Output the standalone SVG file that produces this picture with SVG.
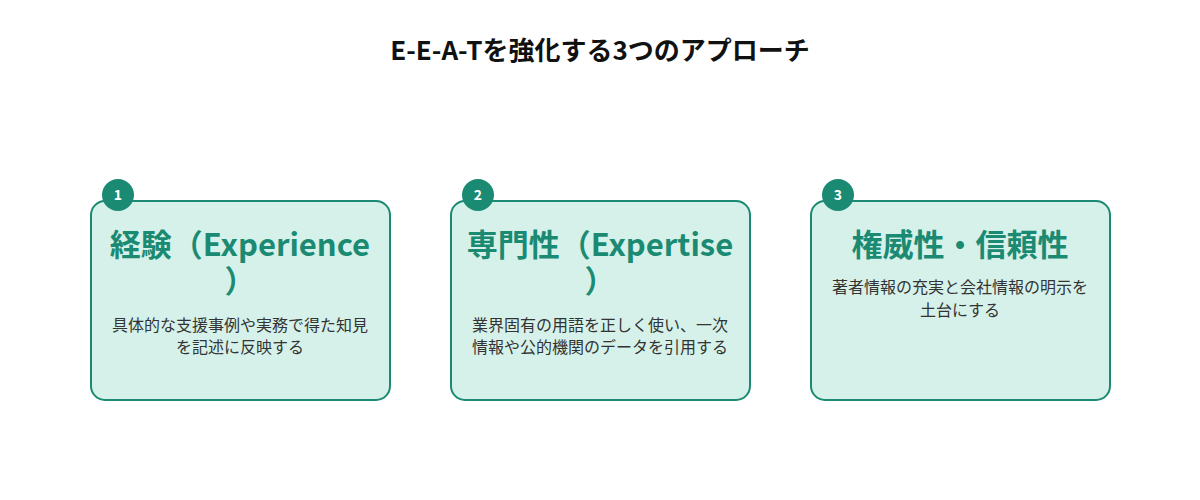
<svg xmlns="http://www.w3.org/2000/svg" width="1200" height="500" viewBox="0 0 1200 500">
<style>
.card{fill:#d5f1e9;stroke:#1b8a72;stroke-width:2}
.badge{fill:#1b8a72}
.bn{font-family:"Noto Sans CJK JP","Noto Sans",sans-serif;font-size:14px;font-weight:700;fill:#fff;text-anchor:middle}
.t{font-family:"Noto Sans CJK JP","Noto Sans",sans-serif;font-size:31px;font-weight:700;fill:#1b8a72;text-anchor:middle}
.d{font-family:"Noto Sans CJK JP","Noto Sans",sans-serif;font-size:16px;fill:#333;text-anchor:middle}
.h{font-family:"Noto Sans CJK JP","Noto Sans",sans-serif;font-size:26px;font-weight:700;fill:#111;text-anchor:middle}
</style>
<rect width="1200" height="500" fill="#fff"/>
<text class="h" x="600" y="60">E-E-A-Tを強化する3つのアプローチ</text>
<g id="card1">
<rect class="card" x="91" y="201" width="299" height="199" rx="14"/>
<circle class="badge" cx="118" cy="195" r="16"/>
<text class="bn" x="118" y="200">1</text>
<text class="t" x="240" y="256">経験（Experience</text>
<text class="t" x="240" y="292">）</text>
<text class="d" x="240" y="331">具体的な支援事例や実務で得た知見</text>
<text class="d" x="240" y="353">を記述に反映する</text>
</g>
<g id="card2">
<rect class="card" x="451" y="201" width="299" height="199" rx="14"/>
<circle class="badge" cx="478" cy="195" r="16"/>
<text class="bn" x="478" y="200">2</text>
<text class="t" x="600" y="256">専門性（Expertise</text>
<text class="t" x="600" y="292">）</text>
<text class="d" x="600" y="331">業界固有の用語を正しく使い、一次</text>
<text class="d" x="600" y="353">情報や公的機関のデータを引用する</text>
</g>
<g id="card3">
<rect class="card" x="811" y="201" width="299" height="199" rx="14"/>
<circle class="badge" cx="838" cy="195" r="16"/>
<text class="bn" x="838" y="200">3</text>
<text class="t" x="960" y="256">権威性・信頼性</text>
<text class="d" x="960" y="293">著者情報の充実と会社情報の明示を</text>
<text class="d" x="960" y="316">土台にする</text>
</g>
<g id="connectors"/>
</svg>
